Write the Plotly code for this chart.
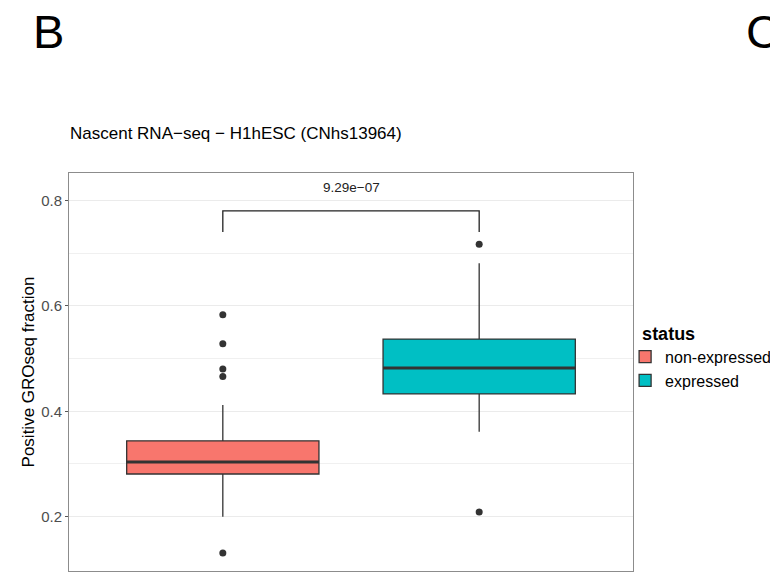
import plotly.graph_objects as go

# ---- data ----
categories = ["non-expressed", "expressed"]
cat_pos = [1, 2]
colors = ["#F8766D", "#00BFC4"]
q1 = [0.281, 0.433]
median = [0.304, 0.482]
q3 = [0.344, 0.537]
lower_whisker = [0.200, 0.361]
upper_whisker = [0.412, 0.681]
outliers = [
    [0.583, 0.528, 0.480, 0.466, 0.131],
    [0.717, 0.209],
]
box_width = 0.75
bracket_top = 0.780
bracket_tip = 0.740
p_label = "9.29e\u221207"

fig = go.Figure()

for i, cat in enumerate(categories):
    fig.add_trace(go.Box(
        name=cat,
        x=[cat_pos[i]],
        q1=[q1[i]], median=[median[i]], q3=[q3[i]],
        lowerfence=[lower_whisker[i]], upperfence=[upper_whisker[i]],
        width=box_width, whiskerwidth=0,
        fillcolor=colors[i],
        line=dict(color="#333333", width=1.3),
        boxpoints=False,
        showlegend=True,
        legendgroup=cat,
    ))
    # thicker median line (ggplot fatten)
    fig.add_trace(go.Scatter(
        x=[cat_pos[i] - box_width / 2, cat_pos[i] + box_width / 2],
        y=[median[i], median[i]],
        mode="lines", line=dict(color="#333333", width=3),
        showlegend=False, hoverinfo="skip", legendgroup=cat,
    ))
    fig.add_trace(go.Scatter(
        x=[cat_pos[i]] * len(outliers[i]), y=outliers[i],
        mode="markers", marker=dict(color="#333333", size=7),
        showlegend=False, legendgroup=cat,
    ))

# significance bracket
fig.add_trace(go.Scatter(
    x=[cat_pos[0], cat_pos[0], cat_pos[1], cat_pos[1]],
    y=[bracket_tip, bracket_top, bracket_top, bracket_tip],
    mode="lines", line=dict(color="#222222", width=1.3),
    showlegend=False, hoverinfo="skip",
))
fig.add_annotation(
    x=(cat_pos[0] + cat_pos[1]) / 2, y=bracket_top, xref="x", yref="y",
    text=p_label, showarrow=False, yanchor="bottom", yshift=14,
    font=dict(size=13.5, color="#222222"),
)

# panel labels
fig.add_annotation(text="B", x=-0.0674, y=1.284, xref="paper", yref="paper",
                   xanchor="left", yanchor="bottom", showarrow=False,
                   font=dict(size=47, color="#000000"))
fig.add_annotation(text="C", x=1.196, y=1.284, xref="paper", yref="paper",
                   xanchor="left", yanchor="bottom", showarrow=False,
                   font=dict(size=47, color="#000000"))

fig.update_layout(
    width=778, height=572,
    margin=dict(l=61, r=153, t=165, b=9, autoexpand=False),
    paper_bgcolor="white", plot_bgcolor="white",
    font=dict(family="Liberation Sans, Arial, sans-serif", color="#000000"),
    title=dict(text="Nascent RNA\u2212seq \u2212 H1hESC (CNhs13964)",
               x=62 / 778, xanchor="left", y=1 - 125 / 572, yanchor="middle",
               font=dict(size=17, color="#000000")),
    showlegend=True,
    legend=dict(
        title=dict(text="&nbsp;&nbsp;&nbsp;<b>status</b>", font=dict(size=18)),
        x=0.986, xanchor="left", y=0.64, yanchor="top",
        font=dict(size=16), bgcolor="rgba(0,0,0,0)",
        tracegroupgap=0,
    ),
    boxmode="overlay",
)

fig.update_xaxes(
    range=[0.4, 2.6], showticklabels=False, ticks="",
    showgrid=False, zeroline=False, automargin=False,
    showline=True, linecolor="#8c8c8c", linewidth=1, mirror=True,
)
fig.update_yaxes(
    range=[0.097, 0.852], automargin=False,
    tickvals=[0.2, 0.4, 0.6, 0.8], ticktext=["0.2", "0.4", "0.6", "0.8"],
    ticks="outside", ticklen=3, tickcolor="#555555",
    tickfont=dict(size=15, color="#4d4d4d"),
    showgrid=True, gridcolor="#ebebeb", gridwidth=1,
    minor=dict(tickvals=[0.3, 0.5, 0.7], showgrid=True, gridcolor="#f0f0f0",
               gridwidth=1, ticks=""),
    zeroline=False,
    showline=True, linecolor="#8c8c8c", linewidth=1, mirror=True,
    title=dict(text="Positive GROseq fraction", font=dict(size=17),
               standoff=2),
)

fig.write_html("out.html")
